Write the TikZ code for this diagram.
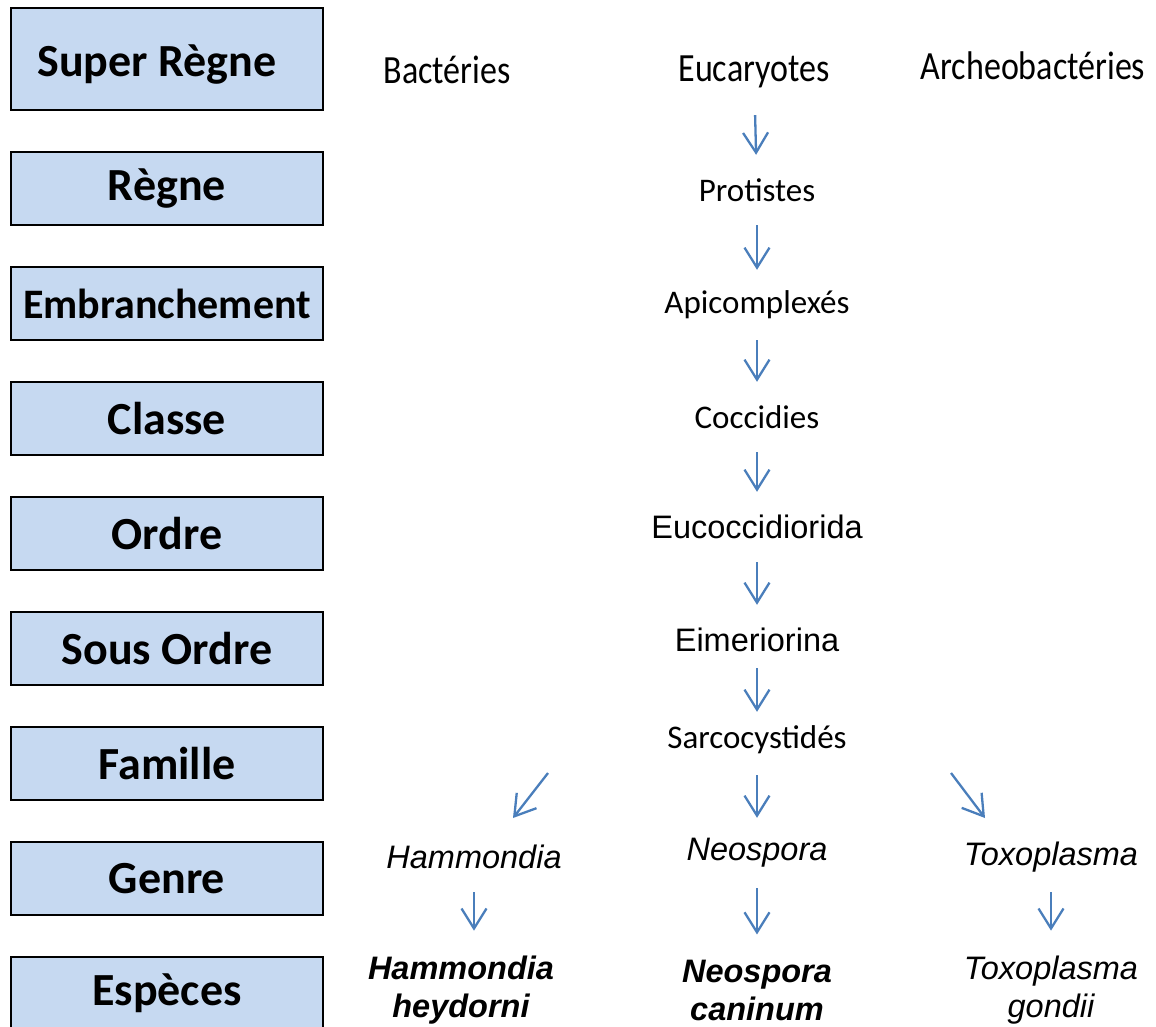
\documentclass[tikz,border=0pt]{standalone}
\usepackage{fontspec}
\setmainfont{Carlito}
\newfontfamily\arialfont{Liberation Sans}
\newfontfamily\condfont[FakeStretch=0.85]{Carlito}
\usetikzlibrary{arrows.meta, positioning}
\definecolor{rangfill}{RGB}{198,217,241}
\definecolor{flblue}{RGB}{74,126,187}

\begin{document}
\begin{tikzpicture}[
    x=1pt, y=-1pt,
    node distance = 42pt,
    rang/.style = {draw=black, line width=2.2pt, fill=rangfill,
                minimum width=312pt, minimum height=73pt,
                inner sep=0pt, outer sep=0pt,
                font=\fontsize{46}{50}\selectfont\bfseries},
    taxon/.style = {minimum height=40pt, inner sep=0pt, align=center,
                font=\fontsize{33}{38}\selectfont},
    haut/.style = {taxon, font=\condfont\fontsize{40}{44}\selectfont},
    latin/.style = {taxon, font=\arialfont\fontsize{32.5}{38}\selectfont},
    fl/.style = {draw=flblue, line width=2.3pt,
                -{Straight Barb[length=20pt,width=25pt]},
                shorten <=15pt, shorten >=15pt}
                    ]
\useasboundingbox (0,0) rectangle (1156,1026);

% rangs
\node (r1) [rang, minimum height=102pt] at (167,59) {\raisebox{-6pt}[\height][\depth]{Super Règne}\hspace*{20pt}};
\node (r2) [rang, below=of r1] {Règne};
\node (r3) [rang, below=of r2, font=\fontsize{42}{46}\selectfont\bfseries] {Embranchement};
\node (r4) [rang, below=of r3] {Classe};
\node (r5) [rang, below=of r4] {Ordre};
\node (r6) [rang, below=of r5] {Sous Ordre};
\node (r7) [rang, below=of r6] {Famille};
\node (r8) [rang, below=of r7] {Genre};
\node (r9) [rang, below=of r8] {Espèces};

% taxons
\node (bac) [haut] at (447,70) {Bactéries};
\node (euc) [haut] at (754,72) {Eucaryotes};
\node (arc) [haut] at (1033,66) {Archeobactéries};
\node (pro) [taxon] at (757,190) {Protistes};
\node (api) [taxon] at (757,305) {Apicomplexés};
\node (coc) [taxon] at (757,417) {Coccidies};
\node (eucoc) [latin] at (757,527) {Eucoccidiorida};
\node (eim) [latin] at (757,640) {Eimeriorina};
\node (sarc) [taxon] at (757,740) {Sarcocystidés};

\node (ham) [latin] at (474,857) {\itshape Hammondia};
\node (neo) [latin] at (757,853) {\itshape Neospora};
\node (tox) [latin] at (1051,857) {\itshape Toxoplasma};
\node (hhey) [latin] at (461,990) {\bfseries\itshape Hammondia\\ \bfseries\itshape heydorni};
\node (ncan) [latin] at (757,990) {\bfseries\itshape Neospora\\ \bfseries\itshape caninum};
\node (tgon) [latin] at (1051,990) {\itshape Toxoplasma\\ \itshape gondii};

\draw[fl, shorten <=23pt] (euc) -- (pro);
\draw[fl] (pro) -- (api);
\draw[fl] (api) -- (coc);
\draw[fl] (coc) -- (eucoc);
\draw[fl] (eucoc) -- (eim);
\draw[fl, shorten <=8pt, shorten >=8pt] (eim) -- (sarc);

\coordinate (g1) at (548,773);
\coordinate (g2) at (513,818);
\coordinate (g3) at (951,773);
\coordinate (g4) at (985,818);
\draw[fl, shorten <=0pt, shorten >=0pt] (g1) -- (g2);
\draw[fl] (sarc) -- (neo);
\draw[fl, shorten <=0pt, shorten >=0pt] (g3) -- (g4);

\draw[fl, shorten >=25pt] (ham) -- (ham |- hhey.north) ;
\draw[fl, shorten >=25pt] (neo) -- (ncan);
\draw[fl, shorten >=25pt] (tox) -- (tgon);

\end{tikzpicture}
\end{document}
